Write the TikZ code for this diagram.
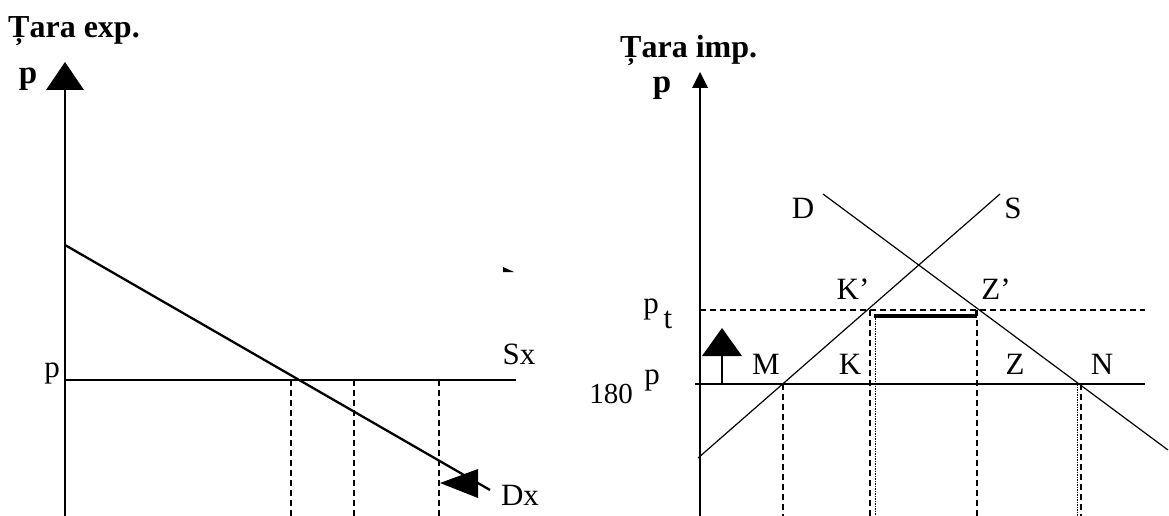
\documentclass[tikz,border=0pt]{standalone}
\usepackage{fontspec}
\setmainfont{Liberation Serif}
\begin{document}
\begin{tikzpicture}[x=1pt,y=-1pt,
  lbl/.style={font=\fontsize{31}{31}\selectfont, anchor=base, inner sep=0pt},
  small lbl/.style={font=\fontsize{29}{29}\selectfont, anchor=base, inner sep=0pt},
  ttl/.style={font=\fontsize{32}{32}\selectfont\bfseries, anchor=base west, inner sep=0pt},
  axlbl/.style={font=\fontsize{33}{33}\selectfont\bfseries, anchor=base, inner sep=0pt},
  axis/.style={line width=2pt},
  curve/.style={line width=2.3pt},
  thin curve/.style={line width=1.2pt},
  guide/.style={line width=1.3pt, dash pattern=on 6pt off 4pt},
  dotguide/.style={line width=0.8pt, dash pattern=on 1.5pt off 1pt},
  tip/.style={fill=black}]
\useasboundingbox (0,0) rectangle (1169,516);
% ---------------- left panel ----------------
\node[ttl] (t1) at (8,38) {Țara exp.};
\node[axlbl] (p1) at (28,84) {p};
\coordinate (la0) at (65,516);
\coordinate (la1) at (65,88);
\draw[axis] (la0) -- (la1);
\fill[tip] (65,62) -- (84,90) -- (46,90) -- cycle;
\coordinate (sx0) at (65,380);
\coordinate (sx1) at (516,380);
\draw[curve] (sx0) -- (sx1);
\node[lbl] (sxl) at (519,364) {Sx};
\node[lbl] (pl) at (52,377) {p};
\coordinate (d0) at (65,245);
\coordinate (d1) at (490,490);
\draw[curve] (d0) -- (d1);
\fill[tip] (440,483) -- (478,469) -- (478,498) -- cycle;
\node[lbl] (dxl) at (520,505) {Dx};
\foreach \x/\n in {291/a,354/b,439/c}{
  \coordinate (g\n0) at (\x,380);
  \coordinate (g\n1) at (\x,516);
  \draw[guide] (g\n0) -- (g\n1);
}
\fill[tip] (503,267) -- (514,272) -- (503,272) -- cycle;
% ---------------- right panel ----------------
\node[ttl] (t2) at (620,58) {Țara imp.};
\node[axlbl] (p2) at (662,93) {p};
\coordinate (ra0) at (700,516);
\coordinate (ra1) at (700,86);
\draw[axis] (ra0) -- (ra1);
\fill[tip] (700,72) -- (708,88) -- (692,88) -- cycle;
% world price line
\coordinate (w0) at (695,384);
\coordinate (w1) at (1145,384);
\draw[curve] (w0) -- (w1);
% tariff price line
\coordinate (pt0) at (700,310);
\coordinate (pt1) at (1145,310);
\draw[guide, line width=1.2pt] (pt0) -- (pt1);
\node[lbl] (ptl) at (651,313) {p};
\node[lbl] (ptt) at (668,328) {t};
\node[small lbl] (n180) at (611,403) {180};
\node[lbl] (p180) at (652,384) {p};
% small arrow
\coordinate (ar0) at (722,384);
\coordinate (ar1) at (722,356);
\draw[line width=1.3pt] (ar0) -- (ar1);
\fill[tip] (722,328) -- (742,356) -- (702,356) -- cycle;
% supply and demand
\coordinate (s0) at (698,458);
\coordinate (s1) at (1000,194);
\draw[thin curve] (s0) -- (s1);
\coordinate (dd0) at (823,194);
\coordinate (dd1) at (1168,450);
\draw[thin curve] (dd0) -- (dd1);
\node[lbl] (Dl) at (803,218) {D};
\node[lbl] (Sl) at (1013,218) {S};
\node[lbl] (Kp) at (853,299) {K’};
\node[lbl] (Zp) at (996,299) {Z’};
\node[lbl] (Ml) at (766,374) {M};
\node[lbl] (Kl) at (850,374) {K};
\node[lbl] (Zl) at (1015,374) {Z};
\node[lbl] (Nl) at (1102,374) {N};
% tariff revenue bar
\coordinate (b0) at (874,316);
\coordinate (b1) at (976,316);
\draw[line width=4.5pt] (b0) -- (b1);
\draw[line width=1.3pt] (976,318) -- (976,310);
% guides
\coordinate (gm0) at (783,384); \coordinate (gm1) at (783,516);
\draw[guide] (gm0) -- (gm1);
\coordinate (gk0) at (870,310); \coordinate (gk1) at (870,516);
\draw[guide] (gk0) -- (gk1);
\coordinate (gk2) at (875,318); \coordinate (gk3) at (875,516);
\draw[dotguide] (gk2) -- (gk3);
\coordinate (gz0) at (977,310); \coordinate (gz1) at (977,516);
\draw[guide] (gz0) -- (gz1);
\coordinate (gn0) at (1081,384); \coordinate (gn1) at (1081,516);
\draw[guide] (gn0) -- (gn1);
\coordinate (gn2) at (1077,384); \coordinate (gn3) at (1077,516);
\draw[dotguide] (gn2) -- (gn3);
\end{tikzpicture}
\end{document}
